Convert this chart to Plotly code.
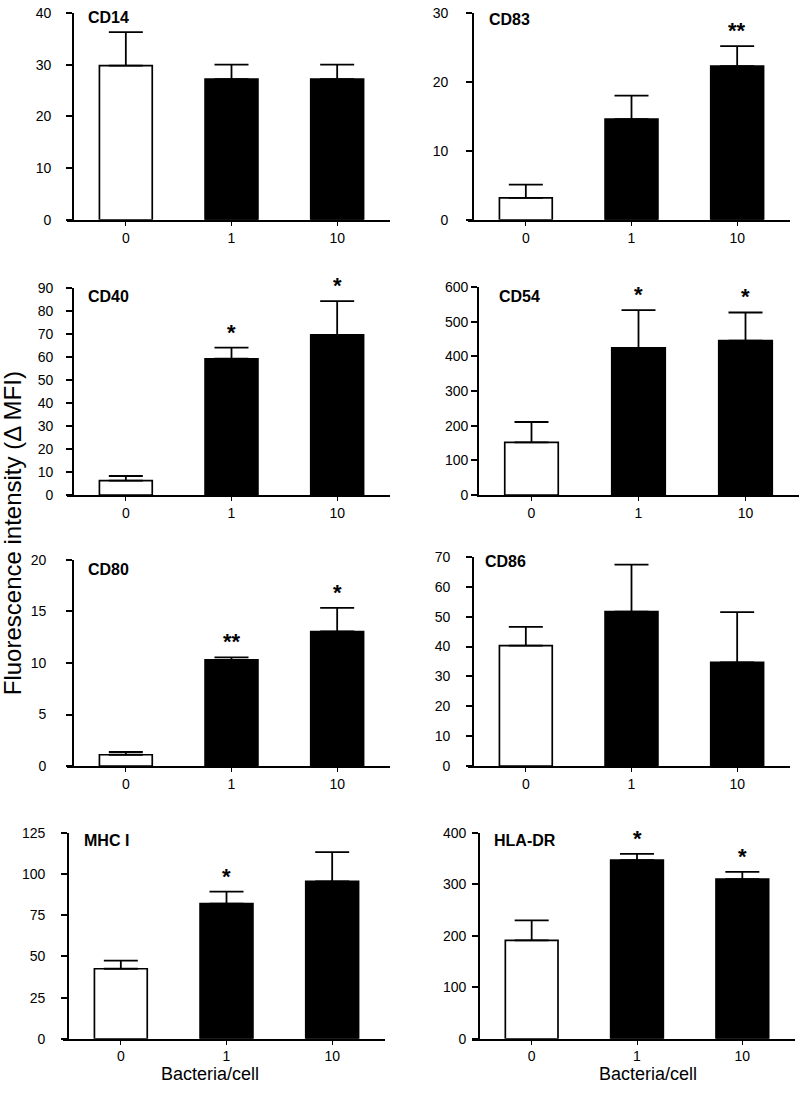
import plotly.graph_objects as go

# ---------------- data ----------------
categories = ["0", "1", "10"]
panel_names = ["CD14", "CD83", "CD40", "CD54", "CD80", "CD86", "MHC I", "HLA-DR"]

cd14_mean = [29.8, 27.2, 27.2]
cd14_err = [6.5, 2.8, 2.8]
cd83_mean = [3.2, 14.6, 22.3]
cd83_err = [1.9, 3.4, 2.9]
cd40_mean = [6.3, 59.3, 69.7]
cd40_err = [2.0, 4.8, 14.7]
cd54_mean = [152, 425, 446]
cd54_err = [59, 109, 81]
cd80_mean = [1.1, 10.3, 13.05]
cd80_err = [0.27, 0.25, 2.3]
cd86_mean = [40.3, 51.7, 34.7]
cd86_err = [6.3, 15.7, 16.8]
mhc1_mean = [42.5, 82.0, 95.5]
mhc1_err = [5.0, 7.3, 17.8]
hladr_mean = [191, 347, 310]
hladr_err = [39, 12, 14]

cd14_stars = ["", "", ""]
cd83_stars = ["", "", "**"]
cd40_stars = ["", "*", "*"]
cd54_stars = ["", "*", "*"]
cd80_stars = ["", "**", "*"]
cd86_stars = ["", "", ""]
mhc1_stars = ["", "*", ""]
hladr_stars = ["", "*", "*"]

y_max = [40, 30, 90, 600, 20, 70, 125, 400]
y_dtick = [10, 10, 10, 100, 5, 10, 25, 100]

means = [cd14_mean, cd83_mean, cd40_mean, cd54_mean, cd80_mean, cd86_mean, mhc1_mean, hladr_mean]
errs = [cd14_err, cd83_err, cd40_err, cd54_err, cd80_err, cd86_err, mhc1_err, hladr_err]
stars = [cd14_stars, cd83_stars, cd40_stars, cd54_stars, cd80_stars, cd86_stars, mhc1_stars, hladr_stars]

x_title = "Bacteria/cell"
y_title = "Fluorescence intensity (\u0394 MFI)"

# ---------------- layout geometry (pixels) ----------------
W, H = 800, 1100
# x-line start, y-axis x, x-line end, top px, bottom px, tick label gap, title x, title y
geom = [
    (67, 73, 390, 5, 215, 20, 86, 10),
    (468, 473, 790, 5, 215, 23, 487, 12),
    (67, 73, 390, 284.3, 494.3, 18, 86, 293),
    (477, 478, 799, 283.3, 494.3, 6, 497, 293),
    (67, 73, 390, 560, 769.3, 25, 86, 570),
    (468, 473, 790, 557, 769.3, 21, 483, 562),
    (63, 68, 385, 837, 1046, 21, 82, 845),
    (472, 479, 795, 837, 1046, 11, 492, 845),
]

FONT = "Liberation Sans, Arial, Helvetica, sans-serif"
bar_colors = ["white", "black", "black"]

fig = go.Figure()
annotations = []

for i, name in enumerate(panel_names):
    n = i + 1
    xs, yx, xe, ytop, ybot, gap, tx, ty = geom[i]
    unit = (xe - yx) / 3.0
    lo = -0.5 - (yx - xs) / unit
    xa = "x" if n == 1 else f"x{n}"
    ya = "y" if n == 1 else f"y{n}"
    fig.add_trace(go.Bar(
        x=categories, y=means[i], width=0.5,
        marker=dict(color=bar_colors, line=dict(color="black", width=1.7)),
        error_y=dict(type="data", array=errs[i], arrayminus=[0, 0, 0],
                     symmetric=False, color="black", thickness=1.8, width=17),
        xaxis=xa, yaxis=ya, showlegend=False, hoverinfo="x+y",
    ))
    xkey = "xaxis" if n == 1 else f"xaxis{n}"
    ykey = "yaxis" if n == 1 else f"yaxis{n}"
    fig.layout[xkey] = dict(
        domain=[xs / W, xe / W], anchor=ya, type="category",
        range=[lo, 2.5], showline=True, linecolor="black", linewidth=1.8,
        ticks="outside", ticklen=4, tickwidth=1, tickcolor="black",
        showgrid=False, zeroline=False,
        tickfont=dict(family=FONT, size=14, color="black"),
    )
    fig.layout[ykey] = dict(
        domain=[1 - ybot / H, 1 - ytop / H], anchor="free", position=yx / W,
        range=[0, y_max[i]], dtick=y_dtick[i], tick0=0,
        showline=True, linecolor="black", linewidth=1.8,
        ticks="outside", ticklen=6, tickwidth=1.5, tickcolor="black",
        ticklabelstandoff=max(gap - 8, 0),
        showgrid=False, zeroline=False,
        tickfont=dict(family=FONT, size=14, color="black"),
    )
    # panel title
    annotations.append(dict(
        text=f"<b>{name}</b>", x=tx / W, y=1 - ty / H, xref="paper", yref="paper",
        xanchor="left", yanchor="middle", showarrow=False,
        font=dict(family=FONT, size=16, color="black"),
    ))
    # significance stars (x given as category index)
    for j, s in enumerate(stars[i]):
        if s:
            annotations.append(dict(
                text=f"<b>{s}</b>", x=j, y=means[i][j] + errs[i][j],
                xref=xa, yref=ya, xanchor="center", yanchor="bottom",
                showarrow=False, yshift=1,
                font=dict(family=FONT, size=22, color="black"),
            ))

annotations.append(dict(
    text=y_title, x=12 / W, y=1 - 533 / H, xref="paper", yref="paper",
    xanchor="center", yanchor="middle", textangle=-90, showarrow=False,
    font=dict(family=FONT, size=24, color="black"),
))
for cx in (210, 648):
    annotations.append(dict(
        text=x_title, x=cx / W, y=1 - 1082 / H, xref="paper", yref="paper",
        xanchor="center", yanchor="middle", showarrow=False,
        font=dict(family=FONT, size=18, color="black"),
    ))

fig.update_layout(
    width=W, height=H, margin=dict(l=0, r=0, t=0, b=0),
    paper_bgcolor="white", plot_bgcolor="white",
    annotations=annotations, bargap=0.5,
)

fig.write_html(
    "out.html",
    config={"displayModeBar": False},
    post_script="document.body.style.margin='0';document.body.style.overflow='hidden';",
)
